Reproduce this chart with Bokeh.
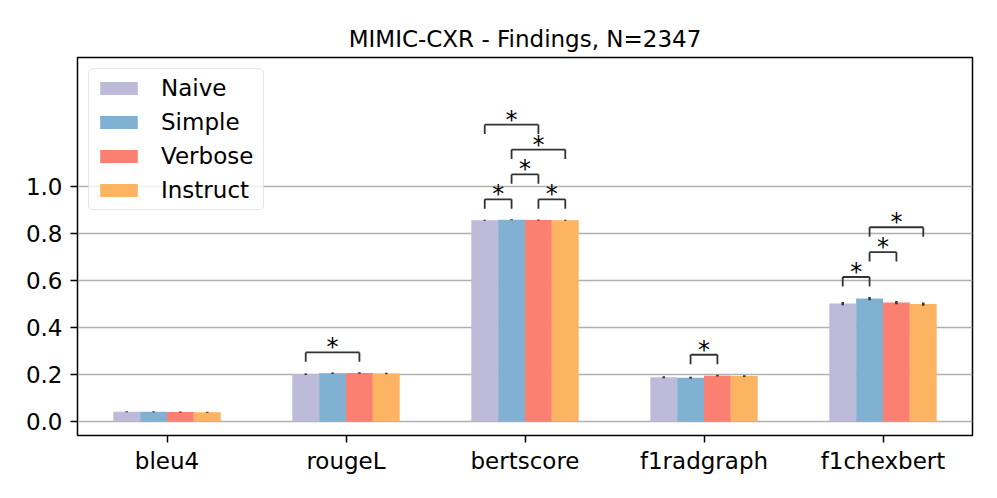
from bokeh.plotting import figure
from bokeh.models import (ColumnDataSource, Range1d, Legend, LegendItem, FixedTicker,
                          CustomJSTickFormatter)
from bokeh.core.properties import value
from bokeh.embed import file_html
from bokeh.resources import INLINE

title = "MIMIC-CXR - Findings, N=2347"
metrics = ["bleu4", "rougeL", "bertscore", "f1radgraph", "f1chexbert"]
methods = ["Naive", "Simple", "Verbose", "Instruct"]
colors = ["#bebada", "#80b1d3", "#fb8072", "#fdb462"]

naive    = [0.041, 0.201, 0.857, 0.188, 0.502]
simple   = [0.041, 0.205, 0.859, 0.186, 0.523]
verbose  = [0.040, 0.206, 0.858, 0.195, 0.506]
instruct = [0.039, 0.204, 0.857, 0.193, 0.500]
errors   = [0.002, 0.003, 0.002, 0.004, 0.007]

# significance brackets: (metric index, method i, method j, stack level)
sig_metric = [1, 2, 2, 2, 2, 2, 3, 4, 4, 4]
sig_i      = [0, 0, 2, 1, 1, 0, 1, 0, 1, 1]
sig_j      = [2, 1, 3, 2, 3, 2, 2, 1, 2, 3]
sig_level  = [0, 0, 0, 1, 2, 3, 0, 0, 1, 2]

series = [naive, simple, verbose, instruct]
bar_w = 0.15
offsets = [-0.225, -0.075, 0.075, 0.225]

FONT = "DejaVu Sans"
FS = "23px"

p = figure(width=981, height=482, output_backend="svg", toolbar_location=None,
           x_range=Range1d(-0.5, 4.5), y_range=Range1d(-0.06, 1.55),
           min_border_left=77, min_border_right=9, min_border_top=57, min_border_bottom=47)

p.title.text = title
p.title.align = "center"
p.title.text_font = FONT
p.title.text_font_size = FS
p.title.text_font_style = "normal"
p.title.text_color = "black"
p.title.standoff = 12

p.outline_line_color = "black"
p.outline_line_width = 1.5
p.outline_line_alpha = 1.0
p.xgrid.grid_line_color = None
p.ygrid.grid_line_color = "#b0b0b0"
p.ygrid.grid_line_width = 1.5

p.yaxis.ticker = FixedTicker(ticks=[0.0, 0.2, 0.4, 0.6, 0.8, 1.0])
p.yaxis.formatter = CustomJSTickFormatter(code="return tick.toFixed(1);")
p.xaxis.ticker = FixedTicker(ticks=list(range(len(metrics))))
p.xaxis.major_label_overrides = {i: m for i, m in enumerate(metrics)}

for ax in (p.xaxis, p.yaxis):
    ax.axis_line_color = None
    ax.major_tick_line_color = "black"
    ax.major_tick_line_width = 1.5
    ax.major_tick_out = 7
    ax.major_tick_in = 0
    ax.minor_tick_line_color = None
    ax.major_label_text_font = FONT
    ax.major_label_text_font_size = FS
    ax.major_label_text_color = "black"
p.xaxis.major_label_standoff = 5
p.yaxis.major_label_standoff = 8

items = []
for k, (name, vals, col) in enumerate(zip(methods, series, colors)):
    xs = [i + offsets[k] for i in range(len(metrics))]
    src = ColumnDataSource(dict(x=xs, top=vals, lo=[v - e for v, e in zip(vals, errors)],
                                hi=[v + e for v, e in zip(vals, errors)]))
    r = p.vbar(x="x", top="top", bottom=0, width=bar_w, source=src,
               fill_color=col, line_color=None)
    p.segment(x0="x", x1="x", y0="lo", y1="hi", source=src, line_color="#333333", line_width=2.5)
    items.append(LegendItem(label=name, renderers=[r]))

# brackets
bx0, bx1, by, byl, sx, sy = [], [], [], [], [], []
for m, i, j, lev in zip(sig_metric, sig_i, sig_j, sig_level):
    top = max(s[m] + errors[m] for s in series)
    h = top + 0.085 + lev * 0.106
    x0 = m + offsets[i]
    x1 = m + offsets[j]
    bx0.append(x0); bx1.append(x1); by.append(h); byl.append(h - 0.04)
    sx.append((x0 + x1) / 2); sy.append(h)
bsrc = ColumnDataSource(dict(x0=bx0, x1=bx1, y=by, yl=byl, sx=sx, sy=sy, t=["*"] * len(sx)))
bc = "#333333"
p.segment(x0="x0", x1="x1", y0="y", y1="y", source=bsrc, line_color=bc, line_width=1.8)
p.segment(x0="x0", x1="x0", y0="y", y1="yl", source=bsrc, line_color=bc, line_width=1.8)
p.segment(x0="x1", x1="x1", y0="y", y1="yl", source=bsrc, line_color=bc, line_width=1.8)
p.text(x="sx", y="sy", text="t", source=bsrc, text_align="center", text_baseline="alphabetic",
       text_font=value(FONT), text_font_size="24px", text_color="#000000", y_offset=-5)

legend = Legend(items=items, location="top_left")
legend.label_text_font = FONT
legend.label_text_font_size = FS
legend.label_text_color = "black"
legend.glyph_width = 47
legend.glyph_height = 16
legend.label_height = 26
legend.label_width = 96
legend.spacing = 8
legend.padding = 6
legend.margin = 11
legend.label_standoff = 19
legend.border_line_color = "#cccccc"
legend.border_line_width = 1.5
legend.border_radius = 5
legend.background_fill_alpha = 0.8
p.add_layout(legend)

open("out.html", "w").write(file_html(p, INLINE))
